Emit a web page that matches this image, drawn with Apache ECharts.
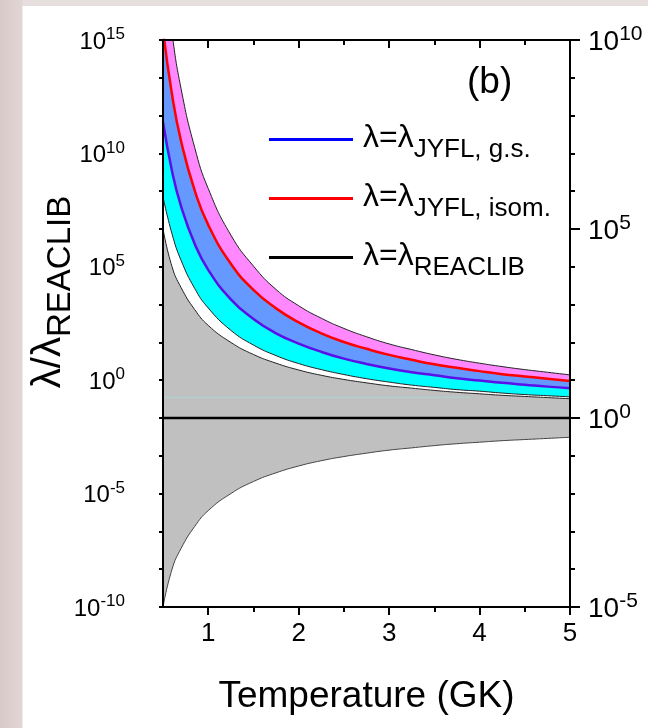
<!DOCTYPE html>
<html><head><meta charset="utf-8">
<script src="https://cdn.jsdelivr.net/npm/echarts@6/dist/echarts.min.js"></script>
<style>
html,body{margin:0;padding:0;}
body{width:648px;height:728px;overflow:hidden;
background:
 linear-gradient(to right,#d8c9c9 0px,#e2d6d5 22px,rgba(255,255,255,0) 23px) left top/23px 100% no-repeat,
 linear-gradient(#e7dfde,#e7dfde) left top/100% 6px no-repeat,
 #ffffff;}
#chart{width:648px;height:728px;}
</style></head><body><div id="chart"></div>
<script>
// Temperature grid (GK)
const temps = [0.5,0.6,0.7,0.85,1.0,1.25,1.5,1.75,2.0,2.25,2.5,2.75,3.0,3.25,3.5,3.75,4.0,4.25,4.5,4.75,5.0];
// log10(lambda/lambda_REACLIB), read against the right axis
const isomUpper   = [12.2,10.18,8.71,7.16,6.07,4.84,4.02,3.40,2.97,2.64,2.37,2.15,1.96,1.81,1.67,1.55,1.45,1.36,1.28,1.21,1.14];
const isomCentral = [10.27,8.55,7.32,6.02,5.11,4.08,3.39,2.90,2.53,2.24,2.01,1.83,1.67,1.54,1.42,1.33,1.24,1.16,1.10,1.04,0.98];
const gsCentral   = [7.83,6.53,5.60,4.61,3.92,3.14,2.62,2.24,1.97,1.75,1.57,1.43,1.31,1.21,1.13,1.05,0.99,0.93,0.88,0.83,0.79];
const gsLower     = [5.85,4.87,4.17,3.43,2.91,2.32,1.93,1.65,1.44,1.28,1.15,1.04,0.95,0.87,0.81,0.75,0.71,0.66,0.62,0.59,0.56];
const reaclibUnc  = [5.0,4.0,3.45,2.87,2.45,2.0,1.68,1.45,1.27,1.13,1.02,0.93,0.85,0.79,0.73,0.68,0.64,0.60,0.57,0.54,0.51];
const reaclibRefT = [0.5,5];
const reaclibRef  = [0,0];
const faintT = [0.5,3.9];
const faintV = [0.55,0.55];
// axis ticks / labels
const xMajor = [1,2,3,4,5];
const xMinor = [1.5,2.5,3.5,4.5];
const leftLabels = [-10,-5,0,5,10,15];
const rightLabels = [-5,0,5,10];
const rightMinor = [-4,-3,-2,-1,1,2,3,4,6,7,8,9];
const leftTicks = Array.from({length:16},(_, k)=>-10 + k*5/3);

const FONT = "'Liberation Sans', Arial, sans-serif";
const pts = arr => temps.map((t,i)=>[t, arr[i]]);
const neg = arr => arr.map(v=>-v);
const SM = 0.5;

function area(arr, color){
  return {type:'line', yAxisIndex:1, data:pts(arr), symbol:'none', smooth:SM,
    lineStyle:{width:0}, areaStyle:{color:color, opacity:1, origin:'start'}, z:1, silent:true};
}
function edge(arr, color, w){
  return {type:'line', yAxisIndex:1, data:pts(arr), symbol:'none', smooth:SM,
    lineStyle:{width:w, color:color}, z:2, silent:true};
}
function central(name, arr, color){
  return {name:name, type:'line', yAxisIndex:1, data:pts(arr), symbol:'none', smooth:SM,
    color:color, itemStyle:{color:color}, lineStyle:{width:2.5, color:color}, z:3, silent:true};
}

const chart = echarts.init(document.getElementById('chart'), null, {renderer:'canvas'});
const supRich = (b,s)=>({
  b:{fontSize:b, fontFamily:FONT, color:'#000', lineHeight:b+4, verticalAlign:'bottom'},
  s:{fontSize:s, fontFamily:FONT, color:'#000', lineHeight:s, verticalAlign:'top'}
});
const baseX = {type:'value', min:0.5, max:5, splitLine:{show:false}, z:10};
const axLine = {show:true, onZero:false, lineStyle:{color:'#000', width:2}};

chart.setOption({
  animation:false,
  backgroundColor:'transparent',
  grid:{left:163, right:78, top:40, bottom:121, show:false},
  xAxis:[
    Object.assign({}, baseX, {position:'bottom', axisLine:axLine,
      axisTick:{customValues:xMajor, length:8, lineStyle:{color:'#000', width:2}},
      axisLabel:{customValues:xMajor, fontSize:26, fontFamily:FONT, color:'#000', margin:14},
      name:'Temperature (GK)', nameLocation:'middle', nameGap:71,
      nameTextStyle:{fontSize:37, fontFamily:FONT, color:'#000'}}),
    Object.assign({}, baseX, {position:'bottom', axisLine:{show:false, onZero:false},
      axisTick:{customValues:xMinor, length:5, lineStyle:{color:'#000', width:2}}, axisLabel:{show:false}}),
    Object.assign({}, baseX, {position:'top', axisLine:axLine,
      axisTick:{customValues:xMajor, inside:true, length:8, lineStyle:{color:'#000', width:2}}, axisLabel:{show:false}}),
    Object.assign({}, baseX, {position:'top', axisLine:{show:false, onZero:false},
      axisTick:{customValues:xMinor, inside:true, length:5, lineStyle:{color:'#000', width:2}}, axisLabel:{show:false}})
  ],
  yAxis:[
    {type:'value', position:'left', min:-10, max:15, splitLine:{show:false}, z:10, axisLine:axLine,
      axisTick:{customValues:leftTicks, length:4, lineStyle:{color:'#000', width:2}},
      axisLabel:{customValues:leftLabels, margin:38, showMinLabel:true, showMaxLabel:true,
        formatter:v=>'{b|10}{s|'+Math.round(v)+'}', rich:supRich(24,17)}},
    {type:'value', position:'right', min:-5, max:10, splitLine:{show:false}, z:10, axisLine:axLine,
      axisTick:{customValues:rightLabels, length:10, lineStyle:{color:'#000', width:2}},
      axisLabel:{customValues:rightLabels, margin:18, showMinLabel:true, showMaxLabel:true,
        formatter:v=>'{b|10}{s|'+Math.round(v)+'}', rich:supRich(28,21)}},
    {type:'value', position:'right', min:-5, max:10, splitLine:{show:false}, z:10,
      axisLine:{show:false, onZero:false},
      axisTick:{customValues:rightMinor, length:5, lineStyle:{color:'#000', width:2}},
      axisLabel:{show:false}}
  ],
  legend:{
    data:[{name:'JYFL, g.s.', itemStyle:{color:'#0000ff'}},{name:'JYFL, isom.'},{name:'REACLIB'}],
    orient:'vertical', left:264, top:117, itemWidth:84, itemHeight:3, itemGap:18, icon:'rect',
    selectedMode:false,
    formatter:n=>'{a|λ=λ}{b|'+n+'}',
    textStyle:{rich:{
      a:{fontSize:32, fontFamily:FONT, color:'#000', lineHeight:35, verticalAlign:'top', padding:[0,0,0,5]},
      b:{fontSize:26, fontFamily:FONT, color:'#000', lineHeight:26, verticalAlign:'top', padding:[15,0,0,0]}
    }}
  },
  graphic:[
    {type:'text', left:467, top:64, style:{text:'(b)', fontSize:37, fontFamily:FONT, fill:'#000'}},
    {type:'text', x:50, y:292, rotation:Math.PI/2,
      style:{text:'{a|λ/λ}{b|REACLIB}', align:'center', verticalAlign:'middle', fill:'#000',
        rich:{
          a:{fontSize:40, fontFamily:FONT, fill:'#000', lineHeight:42, verticalAlign:'top'},
          b:{fontSize:33, fontFamily:FONT, fill:'#000', lineHeight:33, verticalAlign:'top', padding:[15,0,0,0]}
        }}}
  ],
  series:[
    area(isomUpper,'#ff88ff'),
    area(isomCentral,'#6699ff'),
    area(gsCentral,'#00ffff'),
    area(gsLower,'#ffffff'),
    area(reaclibUnc,'#c0c0c0'),
    {type:'line', yAxisIndex:1, data:faintT.map((t,i)=>[t, faintV[i]]), symbol:'none',
      lineStyle:{width:1, color:'#a9d6d6'}, z:1, silent:true},
    area(neg(reaclibUnc),'#ffffff'),
    edge(isomUpper,'#222',1),
    edge(gsLower,'#222',1),
    edge(reaclibUnc,'#222',1),
    edge(neg(reaclibUnc),'#444',1),
    central('JYFL, isom.', isomCentral, '#ff0000'),
    central('JYFL, g.s.', gsCentral, '#5a10e8'),
    {name:'REACLIB', type:'line', yAxisIndex:1, data:reaclibRefT.map((t,i)=>[t, reaclibRef[i]]), symbol:'none',
      color:'#000', itemStyle:{color:'#000'}, lineStyle:{width:2.5, color:'#000'}, z:4, silent:true}
  ]
});
</script></body></html>
